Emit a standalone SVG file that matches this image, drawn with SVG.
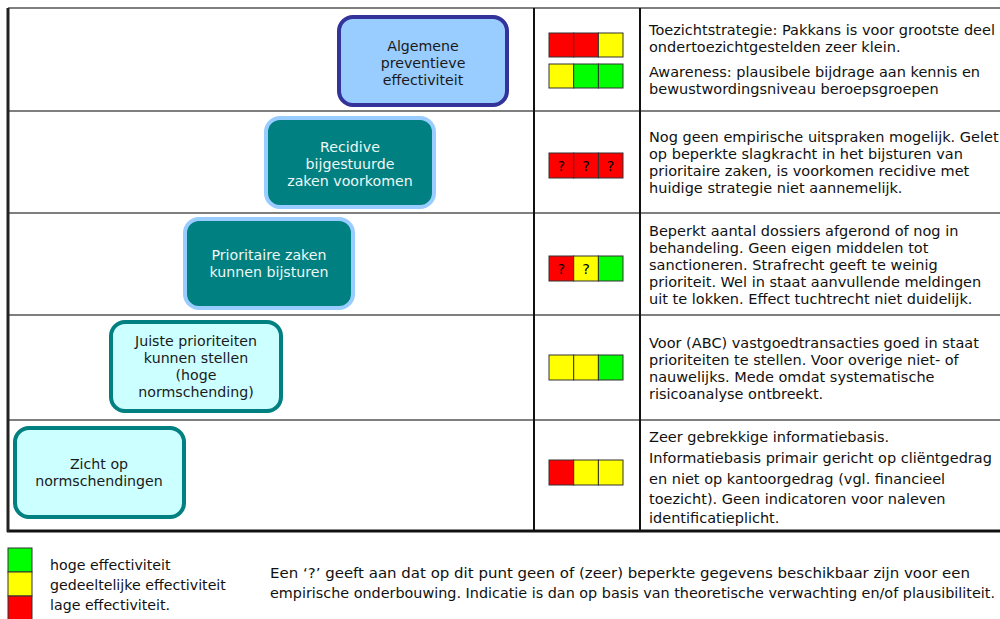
<svg xmlns="http://www.w3.org/2000/svg" width="1000" height="619" viewBox="0 0 1000 619">
  <style>
    .txt { font-family: "DejaVu Sans", Verdana, sans-serif; font-size: 14.5px; fill: #111; }
    .leg { font-family: "DejaVu Sans", Verdana, sans-serif; font-size: 14.2px; fill: #111; }
    .ntxt { font-family: "DejaVu Sans", Verdana, sans-serif; font-size: 14.2px; text-anchor: middle; }
    .dark { fill: #1a1a1a; }
    .light { fill: #eef7f7; }
    .q { font-family: "DejaVu Sans", Verdana, sans-serif; font-size: 14.5px; text-anchor: middle; fill: #000; }
    .note { font-family: "DejaVu Sans Condensed", "DejaVu Sans", sans-serif; font-size: 13.5px; fill: #111; }
    .r { fill: #ff0000; stroke: #333; stroke-width: 1; }
    .y { fill: #ffff00; stroke: #333; stroke-width: 1; }
    .g { fill: #00ff00; stroke: #333; stroke-width: 1; }
    .hl { stroke: #555; stroke-width: 1.5; }
    .vl { stroke: #111; stroke-width: 2; }
  </style>

  <rect width="1000" height="619" fill="#ffffff"/>

  <!-- table grid -->
  <g id="grid" fill="none">
    <line x1="8" y1="8" x2="1000" y2="8" class="hl"/>
    <line x1="8" y1="111" x2="1000" y2="111" class="hl"/>
    <line x1="8" y1="213" x2="1000" y2="213" class="hl"/>
    <line x1="8" y1="315" x2="1000" y2="315" class="hl"/>
    <line x1="8" y1="420" x2="1000" y2="420" class="hl"/>
    <line x1="7" y1="531" x2="1000" y2="531" stroke="#111" stroke-width="3"/>
    <line x1="8" y1="8" x2="8" y2="532" stroke="#222" stroke-width="3"/>
    <line x1="534" y1="8" x2="534" y2="531" class="vl"/>
    <line x1="640" y1="8" x2="640" y2="531" class="vl"/>
  </g>

  <!-- nodes -->
  <g id="node-algemene">
    <rect x="339" y="17" width="168" height="88" rx="14" fill="#99ccff" stroke="#333399" stroke-width="4"/>
    <text class="ntxt dark" x="423" y="51">Algemene</text>
    <text class="ntxt dark" x="423" y="68">preventieve</text>
    <text class="ntxt dark" x="423" y="85">effectiviteit</text>
  </g>
  <g id="node-recidive">
    <rect x="266" y="118" width="168" height="89" rx="14" fill="#008080" stroke="#99ccff" stroke-width="4"/>
    <text class="ntxt light" x="350" y="152">Recidive</text>
    <text class="ntxt light" x="350" y="169">bijgestuurde</text>
    <text class="ntxt light" x="350" y="186">zaken voorkomen</text>
  </g>
  <g id="node-prioritaire">
    <rect x="185" y="219" width="168" height="89" rx="14" fill="#008080" stroke="#99ccff" stroke-width="4"/>
    <text class="ntxt light" x="269" y="260">Prioritaire zaken</text>
    <text class="ntxt light" x="269" y="277">kunnen bijsturen</text>
  </g>
  <g id="node-juiste">
    <rect x="111" y="322" width="170" height="89" rx="14" fill="#ccffff" stroke="#008080" stroke-width="4"/>
    <text class="ntxt dark" x="196" y="346">Juiste prioriteiten</text>
    <text class="ntxt dark" x="196" y="363">kunnen stellen</text>
    <text class="ntxt dark" x="196" y="380">(hoge</text>
    <text class="ntxt dark" x="196" y="397">normschending)</text>
  </g>
  <g id="node-zicht">
    <rect x="15" y="428" width="169" height="89" rx="14" fill="#ccffff" stroke="#008080" stroke-width="4"/>
    <text class="ntxt dark" x="99" y="469">Zicht op</text>
    <text class="ntxt dark" x="99" y="486">normschendingen</text>
  </g>

  <!-- effectiveness ratings -->
  <g id="rating-1">
    <rect x="549" y="33" width="24.7" height="24" class="r"/>
    <rect x="573.7" y="33" width="24.7" height="24" class="r"/>
    <rect x="598.4" y="33" width="24.6" height="24" class="y"/>
    <rect x="549" y="64" width="24.7" height="24" class="y"/>
    <rect x="573.7" y="64" width="24.7" height="24" class="g"/>
    <rect x="598.4" y="64" width="24.6" height="24" class="g"/>
  </g>
  <g id="rating-2">
    <rect x="549" y="153" width="24.7" height="25" class="r"/>
    <rect x="573.7" y="153" width="24.7" height="25" class="r"/>
    <rect x="598.4" y="153" width="24.6" height="25" class="r"/>
    <text class="q" x="561.3" y="171">?</text>
    <text class="q" x="586" y="171">?</text>
    <text class="q" x="610.7" y="171">?</text>
  </g>
  <g id="rating-3">
    <rect x="549" y="256" width="24.7" height="25" class="r"/>
    <rect x="573.7" y="256" width="24.7" height="25" class="y"/>
    <rect x="598.4" y="256" width="24.6" height="25" class="g"/>
    <text class="q" x="561.3" y="274">?</text>
    <text class="q" x="586" y="274">?</text>
  </g>
  <g id="rating-4">
    <rect x="549" y="355" width="24.7" height="25" class="y"/>
    <rect x="573.7" y="355" width="24.7" height="25" class="y"/>
    <rect x="598.4" y="355" width="24.6" height="25" class="g"/>
  </g>
  <g id="rating-5">
    <rect x="549" y="460" width="24.7" height="25" class="r"/>
    <rect x="573.7" y="460" width="24.7" height="25" class="y"/>
    <rect x="598.4" y="460" width="24.6" height="25" class="y"/>
  </g>

  <!-- explanations -->
  <g id="text-1" class="txt">
    <text x="649" y="35">Toezichtstrategie: Pakkans is voor grootste deel</text>
    <text x="649" y="52">ondertoezichtgestelden zeer klein.</text>
    <text x="649" y="77">Awareness: plausibele bijdrage aan kennis en</text>
    <text x="649" y="94">bewustwordingsniveau beroepsgroepen</text>
  </g>
  <g id="text-2" class="txt">
    <text x="649" y="142">Nog geen empirische uitspraken mogelijk. Gelet</text>
    <text x="649" y="159">op beperkte slagkracht in het bijsturen van</text>
    <text x="649" y="176">prioritaire zaken, is voorkomen recidive met</text>
    <text x="649" y="193">huidige strategie niet aannemelijk.</text>
  </g>
  <g id="text-3" class="txt">
    <text x="649" y="236">Beperkt aantal dossiers afgerond of nog in</text>
    <text x="649" y="253">behandeling. Geen eigen middelen tot</text>
    <text x="649" y="270">sanctioneren. Strafrecht geeft te weinig</text>
    <text x="649" y="287">prioriteit. Wel in staat aanvullende meldingen</text>
    <text x="649" y="304">uit te lokken. Effect tuchtrecht niet duidelijk.</text>
  </g>
  <g id="text-4" class="txt">
    <text x="649" y="348">Voor (ABC) vastgoedtransacties goed in staat</text>
    <text x="649" y="365">prioriteiten te stellen. Voor overige niet- of</text>
    <text x="649" y="382">nauwelijks. Mede omdat systematische</text>
    <text x="649" y="399">risicoanalyse ontbreekt.</text>
  </g>
  <g id="text-5" class="txt">
    <text x="649" y="442">Zeer gebrekkige informatiebasis.</text>
    <text x="649" y="463">Informatiebasis primair gericht op cliëntgedrag</text>
    <text x="649" y="484">en niet op kantoorgedrag (vgl. financieel</text>
    <text x="649" y="504">toezicht). Geen indicatoren voor naleven</text>
    <text x="649" y="523">identificatieplicht.</text>
  </g>

  <!-- legend -->
  <g id="legend">
    <rect x="8" y="548" width="24" height="24" class="g"/>
    <rect x="8" y="572" width="24" height="24" class="y"/>
    <rect x="8" y="596" width="24" height="24" class="r"/>
    <text class="leg" x="50" y="570">hoge effectiviteit</text>
    <text class="leg" x="50" y="590">gedeeltelijke effectiviteit</text>
    <text class="leg" x="50" y="610">lage effectiviteit.</text>
  </g>
  <g id="note">
    <text class="note" x="270" y="578" textLength="700" lengthAdjust="spacingAndGlyphs">Een ‘?’ geeft aan dat op dit punt geen of (zeer) beperkte gegevens beschikbaar zijn voor een</text>
    <text class="note" x="270" y="598" textLength="725" lengthAdjust="spacingAndGlyphs">empirische onderbouwing. Indicatie is dan op basis van theoretische verwachting en/of plausibiliteit.</text>
  </g>
</svg>
